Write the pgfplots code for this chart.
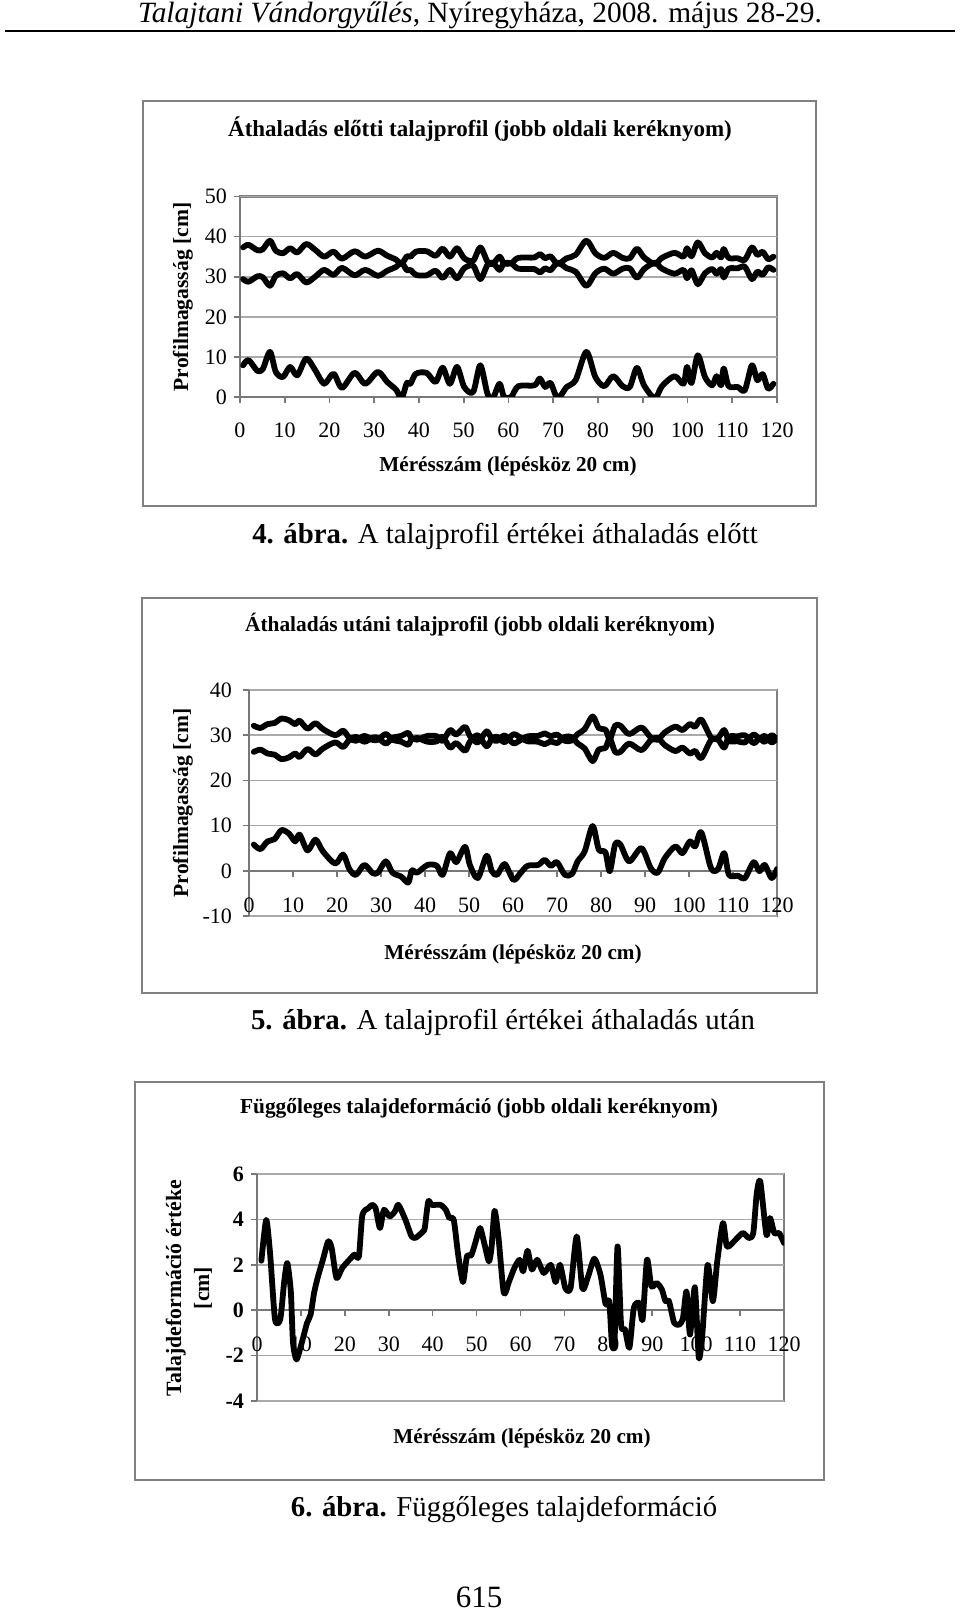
\documentclass[border=0pt]{standalone}
\usepackage{fontspec}
\setmainfont{Liberation Serif}
\usepackage{pgfplots}
\usepackage{pgfplotstable}
\pgfplotsset{compat=1.18}

\definecolor{framegray}{RGB}{128,128,128}
\definecolor{gridgray}{RGB}{170,170,170}
\definecolor{axisgray}{RGB}{120,120,120}

\pgfplotstableread{
x top low d
0.7 37.30 29.40 7.9
1.9 37.95 28.75 9.2
3.9 36.60 30.10 6.5
5.1 36.85 29.85 7.0
6.7 38.98 27.73 11.25
8.0 36.48 30.23 6.25
9.6 35.85 30.85 5.0
11.2 37.10 29.60 7.5
12.8 36.05 30.65 5.4
14.8 38.15 28.55 9.6
16.8 36.70 30.00 6.7
18.8 35.00 31.70 3.3
20.9 36.25 30.45 5.8
22.8 34.50 32.20 2.3
25.6 36.35 30.35 6.0
28.0 35.00 31.70 3.3
30.8 36.48 30.23 6.25
32.9 35.23 31.48 3.75
34.9 34.25 32.45 1.8
36.1 33.20 33.50 -0.3
37.3 35.10 31.60 3.5
38.1 35.00 31.70 3.3
39.3 36.25 30.45 5.8
41.7 36.35 30.35 6.0
43.7 35.23 31.48 3.75
45.3 37.00 29.70 7.3
46.9 35.00 31.70 3.3
48.5 37.10 29.60 7.5
50.1 34.60 32.10 2.5
52.1 33.98 32.73 1.25
53.7 37.30 29.40 7.9
55.3 33.75 32.95 0.8
56.5 33.20 33.50 -0.3
58.0 35.00 31.70 3.3
59.0 33.35 33.35 0
60.6 33.35 33.35 0
62.2 34.70 32.00 2.7
65.8 34.80 31.90 2.9
67.0 35.65 31.05 4.6
68.2 34.60 32.10 2.5
69.4 35.10 31.60 3.5
71.0 33.20 33.50 -0.3
73.0 34.60 32.10 2.5
75.0 35.45 31.25 4.2
77.4 38.98 27.73 11.25
79.4 35.85 30.85 5.0
81.4 34.70 32.00 2.7
83.4 35.95 30.75 5.2
85.5 34.70 32.00 2.7
87.1 34.60 32.10 2.5
88.7 36.98 29.73 7.25
90.3 34.80 31.90 2.9
92.7 33.20 33.50 -0.3
94.3 34.70 32.00 2.7
97.1 35.95 30.75 5.2
99.1 35.00 31.70 3.3
99.9 37.10 29.60 7.5
100.9 35.10 31.60 3.5
102.3 38.55 28.15 10.4
103.9 35.85 30.85 5.0
105.5 34.80 31.90 2.9
106.5 35.95 30.75 5.2
107.5 34.80 31.90 2.9
108.1 36.90 29.80 7.1
109.2 34.70 32.00 2.7
111.2 34.60 32.10 2.5
112.8 34.20 32.50 1.7
114.4 37.30 29.40 7.9
115.6 35.45 31.25 4.2
116.8 36.20 30.50 5.7
118.0 34.40 32.30 2.1
119.2 35.00 31.70 3.3
}\dataA

\pgfplotstableread{
x top low d
1.1 32.10 26.30 5.8
2.6 31.60 26.80 4.8
4.2 32.45 25.95 6.5
5.8 32.70 25.70 7.0
7.4 33.70 24.70 9.0
9.1 33.30 25.10 8.2
10.5 32.45 25.95 6.5
11.5 33.20 25.20 8.0
13.3 31.45 26.95 4.5
15.1 32.65 25.75 6.9
16.8 31.35 27.05 4.3
19.6 30.00 28.40 1.6
21.4 31.00 27.40 3.6
22.8 29.40 29.00 0.4
24.3 28.75 29.65 -0.9
26.2 29.85 28.55 1.3
28.1 28.95 29.45 -0.5
29.3 29.00 29.40 -0.4
31.1 30.25 28.15 2.1
32.6 29.00 29.40 -0.4
34.6 28.55 29.85 -1.3
36.2 27.90 30.50 -2.6
37.0 29.25 29.15 0.1
38.2 29.00 29.40 -0.4
40.6 29.85 28.55 1.3
42.7 29.75 28.65 1.1
44.0 28.75 29.65 -0.9
45.7 31.15 27.25 3.9
47.1 30.15 28.25 1.9
49.1 31.85 26.55 5.3
50.2 29.85 28.55 1.3
52.0 28.40 30.00 -1.6
54.0 30.85 27.55 3.3
55.2 29.15 29.25 -0.1
56.4 28.75 29.65 -0.9
58.1 29.95 28.45 1.5
60.1 28.20 30.20 -2.0
61.7 28.95 29.45 -0.5
63.3 29.75 28.65 1.1
65.7 29.85 28.55 1.3
67.2 30.40 28.00 2.4
68.6 29.75 28.65 1.1
70.0 30.15 28.25 1.9
71.8 28.75 29.65 -0.9
73.4 28.85 29.55 -0.7
74.7 30.25 28.15 2.1
76.3 31.35 27.05 4.3
78.1 34.15 24.25 9.9
79.5 31.55 26.85 4.7
81.0 31.25 27.15 4.1
82.0 29.15 29.25 -0.1
83.2 32.10 26.30 5.8
84.4 32.10 26.30 5.8
86.4 30.25 28.15 2.1
89.2 31.70 26.70 5.0
91.3 29.50 28.90 0.6
92.9 29.00 29.40 -0.4
94.5 30.60 27.80 2.8
96.9 31.90 26.50 5.4
98.5 31.15 27.25 3.9
100.2 32.45 25.95 6.5
101.4 31.90 26.50 5.4
102.8 33.45 24.95 8.5
105.0 29.50 28.90 0.6
106.6 29.40 29.00 0.4
108.0 31.15 27.25 3.9
109.1 28.75 29.65 -0.9
111.1 28.65 29.75 -1.1
112.7 28.40 30.00 -1.6
114.7 30.15 28.25 1.9
116.0 29.15 29.25 -0.1
117.2 29.85 28.55 1.3
118.8 28.40 30.00 -1.6
120.0 29.40 29.00 0.4
}\dataB

\pgfplotstableread{
x y
1.0 2.18
2.1 3.98
3.0 2.45
4.1 -0.40
5.3 -0.40
6.2 1.27
6.9 2.08
7.7 0.83
8.2 -1.43
9.0 -2.17
10.2 -1.43
11.4 -0.56
12.2 -0.20
13.0 0.76
13.8 1.42
15.0 2.22
16.2 3.03
17.0 2.74
18.1 1.42
19.4 1.86
21.4 2.30
22.2 2.45
23.2 2.37
24.0 4.20
25.4 4.50
26.2 4.64
27.0 4.50
28.0 3.62
28.9 4.42
30.2 4.13
31.4 4.35
32.2 4.64
33.8 3.98
35.2 3.25
36.2 3.20
37.8 3.47
38.2 3.62
39.0 4.79
39.8 4.64
41.8 4.64
43.0 4.42
43.8 4.06
44.8 3.98
45.8 2.45
46.9 1.24
47.8 2.37
48.8 2.42
49.8 3.03
50.8 3.62
51.8 2.91
52.8 2.15
53.4 2.74
54.1 4.38
55.0 3.18
56.2 0.76
57.4 1.27
58.6 1.86
59.8 2.22
60.6 1.71
61.6 2.62
62.6 1.79
63.8 2.22
65.3 1.64
66.9 2.00
68.0 1.24
69.0 2.00
70.2 0.98
71.4 0.98
72.8 3.25
74.1 0.95
75.4 1.49
76.8 2.27
78.2 1.57
79.4 0.25
80.2 0.40
80.8 -1.43
81.4 -1.43
82.1 2.81
82.9 -0.63
83.8 -0.85
84.8 -1.65
85.8 0.10
87.0 0.32
87.8 -0.41
88.8 2.22
89.8 1.05
91.0 1.20
92.2 0.91
93.0 0.40
93.8 0.40
95.0 -0.56
96.2 -0.63
97.0 -0.34
97.8 0.83
98.6 -1.07
99.7 1.01
100.6 -2.09
101.4 -1.07
102.6 2.00
103.8 0.40
104.8 2.15
106.1 3.84
107.0 2.81
108.6 3.03
110.6 3.40
112.0 3.18
113.0 3.40
113.8 5.15
114.6 5.67
116.0 3.32
116.8 4.06
117.8 3.40
118.9 3.40
120.0 2.96
}\dataC

\pgfplotsset{
  pagechart/.style={
    scale only axis,
    xmin=0, xmax=120,
    xtick={0,10,...,120},
    axis x line*=middle,
    axis y line*=left,
    hide obscured x ticks=false,
    hide obscured y ticks=false,
    axis line style={draw=axisgray, line width=1.1pt},
    axis background/.style={draw=framegray, line width=1.1pt},
    ymajorgrids,
    major grid style={draw=gridgray, line width=0.8pt},
    tick style={draw=axisgray, line width=0.8pt},
    tick align=outside,
    major tick length=3pt,
    /pgf/number format/assume math mode=true,
    ticklabel style={font=\fontsize{11}{13}\selectfont},
    xticklabel style={anchor=center, yshift=-14pt},
    yticklabel style={anchor=east, xshift=0pt},
    cycle list={{black}},
    every axis plot/.append style={black, line width=2.9pt, smooth, tension=0.5, line join=round, line cap=round, no marks},
  }
}

\begin{document}
\begin{tikzpicture}
\path[use as bounding box, fill=white] (0,0) rectangle (480pt,807pt);

% header
\node[font=\fontsize{14.7}{17}\selectfont] at (240pt,799.5pt) {\textit{Talajtani Vándorgyűlés}, Nyíregyháza, 2008. május 28-29.};
\draw[line width=1pt] (2.5pt,791.5pt) -- (477.5pt,791.5pt);

% ---------- chart 1 ----------
\draw[framegray, line width=0.6pt] (71.5pt,756.5pt) rectangle (408pt,554pt);
\node[font=\bfseries\fontsize{11.5}{13}\selectfont] at (240pt,742.5pt) {Áthaladás előtti talajprofil (jobb oldali keréknyom)};
\node[font=\bfseries\fontsize{10.8}{12}\selectfont, rotate=90] at (91.5pt,658.5pt) {Profilmagasság [cm]};
\node[font=\bfseries\fontsize{10.6}{12}\selectfont] at (254pt,574pt) {Mérésszám (lépésköz 20 cm)};
\begin{axis}[pagechart, at={(120pt,608.5pt)}, anchor=south west,
  width=268.5pt, height=100.25pt, ymin=0, ymax=50, ytick={0,10,...,50},
  xticklabel style={yshift=0.5pt}]
\addplot table[x=x, y=top] {\dataA};
\addplot table[x=x, y=low] {\dataA};
\addplot table[x=x, y=d] {\dataA};
\end{axis}
\node[font=\fontsize{14.4}{16}\selectfont] at (252.5pt,539pt) {\textbf{4. ábra.} A talajprofil értékei áthaladás előtt};

% ---------- chart 2 ----------
\draw[framegray, line width=0.6pt] (71pt,508pt) rectangle (408.5pt,310.5pt);
\node[font=\bfseries\fontsize{10.7}{12}\selectfont] at (240pt,494.5pt) {Áthaladás utáni talajprofil (jobb oldali keréknyom)};
\node[font=\bfseries\fontsize{10.8}{12}\selectfont, rotate=90] at (91.5pt,405.5pt) {Profilmagasság [cm]};
\node[font=\bfseries\fontsize{10.6}{12}\selectfont] at (256.5pt,330pt) {Mérésszám (lépésköz 20 cm)};
\begin{axis}[pagechart, at={(124.5pt,349pt)}, anchor=south west,
  width=264pt, height=113pt, ymin=-10, ymax=40, ytick={-10,0,...,40},
  yticklabel style={xshift=-2pt}]
\addplot table[x=x, y=top] {\dataB};
\addplot table[x=x, y=low] {\dataB};
\addplot table[x=x, y=d] {\dataB};
\end{axis}
\node[font=\fontsize{14.4}{16}\selectfont] at (251.5pt,296pt) {\textbf{5. ábra.} A talajprofil értékei áthaladás után};

% ---------- chart 3 ----------
\draw[framegray, line width=0.6pt] (67.5pt,266pt) rectangle (412pt,67pt);
\node[font=\bfseries\fontsize{10.7}{12}\selectfont] at (239.5pt,253pt) {Függőleges talajdeformáció (jobb oldali keréknyom)};
\node[font=\bfseries\fontsize{10.9}{14}\selectfont, rotate=90, align=center] at (94.5pt,163pt) {Talajdeformáció értéke\\{[cm]}};
\node[font=\bfseries\fontsize{10.6}{12}\selectfont] at (261pt,88pt) {Mérésszám (lépésköz 20 cm)};
\begin{axis}[pagechart, at={(128.5pt,106.5pt)}, anchor=south west,
  width=263.5pt, height=113.5pt, ymin=-4, ymax=6, ytick={-4,-2,...,6},
  yticklabel style={font=\bfseries\fontsize{11}{13}\selectfont}]
\addplot+[tension=0.4] table[x=x, y=y] {\dataC};
\end{axis}
\node[font=\fontsize{14.4}{16}\selectfont] at (252pt,52.5pt) {\textbf{6. ábra.} Függőleges talajdeformáció};

\node[font=\fontsize{15.5}{17}\selectfont, inner sep=0pt, anchor=base] at (239.5pt,3pt) {615};
\end{tikzpicture}
\end{document}
